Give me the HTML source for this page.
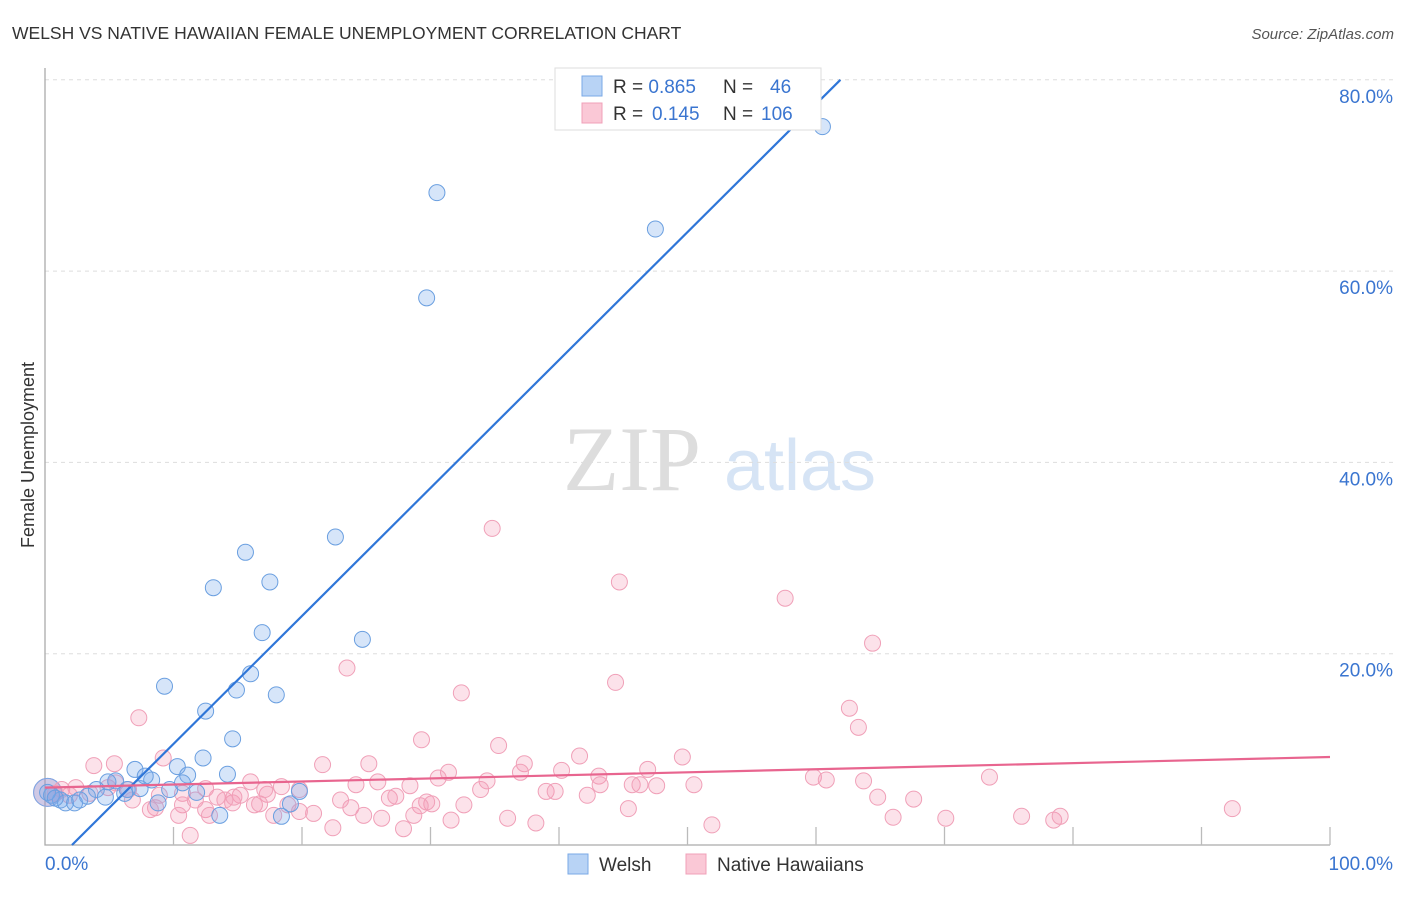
<!DOCTYPE html>
<html><head><meta charset="utf-8"><style>
body{margin:0;background:#fff;font-family:"Liberation Sans",sans-serif}
</style></head><body>
<svg id="c" width="1406" height="892" xmlns="http://www.w3.org/2000/svg">
<text x="12" y="39" font-size="17.5" fill="#333">WELSH VS NATIVE HAWAIIAN FEMALE UNEMPLOYMENT CORRELATION CHART</text>
<text x="1394" y="39" font-size="15" fill="#555" font-style="italic" text-anchor="end">Source: ZipAtlas.com</text>
<text transform="translate(34,455) rotate(-90)" font-size="18" fill="#333" text-anchor="middle">Female Unemployment</text>
<g><text x="632" y="490" font-size="92" fill="#ddd" font-family="Liberation Serif,serif" text-anchor="middle">ZIP</text><text x="800" y="490" font-size="72" fill="#d6e4f5" text-anchor="middle">atlas</text></g>
<g id="grid"></g><g id="marks"></g>
<g>
<rect x="555" y="68" width="266" height="62" fill="#fff" stroke="#ddd"/>
<rect x="582" y="76" width="20" height="20" fill="#b8d3f5" stroke="#7aa8e6"/>
<rect x="582" y="103" width="20" height="20" fill="#fac8d6" stroke="#f0a0b8"/>
<text x="613" y="93" font-size="19" fill="#333">R = <tspan fill="#3a75d0">0.865</tspan><tspan x="723">N = </tspan><tspan x="770" fill="#3a75d0">46</tspan></text>
<text x="613" y="120" font-size="19" fill="#333">R = <tspan x="652" fill="#3a75d0">0.145</tspan><tspan x="723">N = </tspan><tspan x="761" fill="#3a75d0">106</tspan></text>
</g>
<g>
<rect x="568" y="854" width="20" height="20" fill="#b8d3f5" stroke="#7aa8e6"/><text x="599" y="871" font-size="19" fill="#333">Welsh</text>
<rect x="686" y="854" width="20" height="20" fill="#fac8d6" stroke="#f0a0b8"/><text x="717" y="871" font-size="19" fill="#333">Native Hawaiians</text>
</g>
</svg>
<script>
const yTicks=[20,40,60,80];
const xTickLabels=["0.0%","100.0%"];
const welshX=[60.5,30.5,47.5,29.7,15.6,22.6,13.1,17.5,16.9,24.7,9.3,16.0,14.9,18.0,12.5,14.6,12.3,10.3,11.1,14.2,7.0,8.3,7.8,5.5,4.9,4.0,6.4,7.4,9.7,10.7,11.8,8.8,4.7,3.3,1.2,1.6,2.3,0.5,0.2,0.8,19.1,19.8,18.4,13.6,6.2,2.7];
const welshY=[75.1,68.2,64.4,57.2,30.6,32.2,26.9,27.5,22.2,21.5,16.6,17.9,16.2,15.7,14.0,11.1,9.1,8.2,7.3,7.4,7.9,6.8,7.2,6.7,6.6,5.8,5.8,5.9,5.8,6.5,5.5,4.4,5.0,5.1,4.7,4.4,4.4,5.2,5.5,4.9,4.3,5.6,3.0,3.1,5.4,4.7];
const hawX=[34.8,44.7,57.6,64.4,23.5,32.4,44.4,62.6,63.3,7.3,29.3,35.3,41.6,49.6,9.2,3.8,5.4,21.6,25.2,37.3,40.2,46.9,43.1,59.8,60.8,63.7,73.5,30.6,31.4,34.4,16.0,18.4,24.2,25.9,28.4,45.7,46.3,47.6,50.5,4.9,2.4,3.5,6.5,10.7,12.5,15.2,17.3,19.8,26.8,27.3,30.1,29.7,32.6,33.9,39.0,39.7,42.2,43.2,64.8,67.6,1.3,0.8,6.8,8.6,10.7,13.4,14.6,16.3,16.7,18.9,23.0,23.8,29.2,14.7,12.5,12.8,17.8,20.9,24.8,26.2,28.7,31.6,36.0,38.2,45.4,66.0,70.1,76.0,78.5,79.0,92.4,22.4,27.9,51.9,11.3,10.4,19.8,5.5,8.9,1.9,8.2,14.0,11.7,17.1,37.0];
const hawY=[33.1,27.5,25.8,21.1,18.5,15.9,17.0,14.3,12.3,13.3,11.0,10.4,9.3,9.2,9.1,8.3,8.5,8.4,8.5,8.5,7.8,7.9,7.2,7.1,6.8,6.7,7.1,7.0,7.6,6.7,6.6,6.1,6.3,6.6,6.2,6.3,6.3,6.2,6.3,6.0,6.0,5.4,5.8,5.4,5.9,5.2,5.3,5.8,4.9,5.1,4.3,4.5,4.2,5.8,5.6,5.6,5.2,6.3,5.0,4.8,5.8,5.4,4.7,3.9,4.2,5.0,4.4,4.2,4.3,4.2,4.7,3.9,4.1,5.0,3.7,3.1,3.1,3.3,3.1,2.8,3.1,2.6,2.8,2.3,3.8,2.9,2.8,3.0,2.6,3.0,3.8,1.8,1.7,2.1,1.0,3.1,3.5,6.5,5.2,5.2,3.7,4.7,4.7,5.8,7.6];
const welshTrendX=[2.1,61.9], welshTrendY=[0,80];
const hawTrendX=[0,100], hawTrendY=[6.0,9.2];
const X0=45,X1=1330,Y0=845,YS=9.565;
const sx=v=>X0+(X1-X0)*v/100, sy=v=>Y0-v*YS;
const NS="http://www.w3.org/2000/svg";
const grid=document.getElementById('grid'), marks=document.getElementById('marks');
function mk(p,tag,at){const e=document.createElementNS(NS,tag);for(const k in at)e.setAttribute(k,at[k]);p.appendChild(e);return e;}
yTicks.forEach(t=>{
 const l=mk(grid,'line',{x1:X0,x2:1394,y1:sy(t),y2:sy(t),stroke:'#ddd','stroke-dasharray':'4,4'});
 
 
 const tx=mk(grid,'text',{x:1393,y:sy(t)+23,'font-size':19,fill:'#3a75d0','text-anchor':'end'});
 tx.textContent=t.toFixed(1)+'%';
 
 
});
const ax=mk(grid,'path',{d:`M${X0},68 V${Y0} H${X1}`,stroke:'#aaa',fill:'none','stroke-width':1.3});


for(let i=1;i<=10;i++){const t=mk(grid,'line',{x1:sx(i*10),x2:sx(i*10),y1:Y0,y2:Y0-18,stroke:'#bbb','stroke-width':1.3});
 
 }
xTickLabels.forEach((s,i)=>{const t=mk(grid,'text',{x:i?1393:45,y:870,'font-size':19,fill:'#3a75d0','text-anchor':i?'end':'start'});t.textContent=s;
 
 });
function big(fill,stroke){const c=mk(marks,'circle',{cx:sx(0.2),cy:sy(5.5),r:14,fill,stroke});
 
 }
big('rgba(240,140,170,0.3)','#f0a0b8');big('rgba(110,160,230,0.3)','#7aa8e6');
hawX.forEach((x,i)=>{const c=mk(marks,'circle',{cx:sx(x),cy:sy(hawY[i]),r:8,fill:'rgba(245,150,180,0.28)',stroke:'#f0a0b8','stroke-width':1});
 
 });
welshX.forEach((x,i)=>{const c=mk(marks,'circle',{cx:sx(x),cy:sy(welshY[i]),r:8,fill:'rgba(120,170,235,0.3)',stroke:'#6a9fe0','stroke-width':1});
 
 });
const bl=mk(marks,'line',{x1:sx(welshTrendX[0]),y1:sy(welshTrendY[0]),x2:sx(welshTrendX[1]),y2:sy(welshTrendY[1]),stroke:'#2f76d8','stroke-width':2.2});


const pl=mk(marks,'line',{x1:sx(hawTrendX[0]),y1:sy(hawTrendY[0]),x2:sx(hawTrendX[1]),y2:sy(hawTrendY[1]),stroke:'#e8658f','stroke-width':2.2});


</script>
</body></html>
